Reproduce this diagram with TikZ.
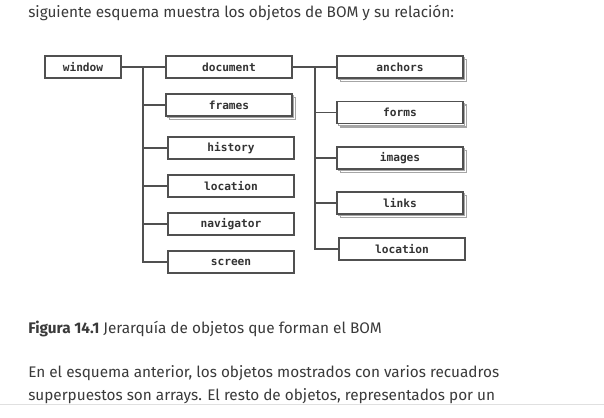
\documentclass[tikz,border=0pt]{standalone}
\usepackage{fontspec}
\setmainfont{Fira Sans}
\newfontfamily\boxfont{DejaVu Sans Mono}
\usetikzlibrary{shadows}
\definecolor{texto}{HTML}{3A3A3A}
\definecolor{linea}{HTML}{505050}
\begin{document}
\begin{tikzpicture}[
    x=0.75pt, y=-0.75pt,
    box/.style={rectangle, draw=linea, line width=1pt, fill=white,
                minimum width=94.5pt, minimum height=16.5pt, inner sep=0pt,
                font=\boxfont\bfseries\fontsize{8.4}{9}\selectfont, text=black!80},
    arr/.style={box, double copy shadow={shadow xshift=1.3pt, shadow yshift=-1.3pt,
                draw=black!35, fill=white}},
    line/.style={draw=linea, line width=1.1pt},
    txt/.style={anchor=base west, inner sep=0pt, text=texto,
                font=\fontsize{11.5}{14}\selectfont}
  ]
    \useasboundingbox[fill=white] (0,0) rectangle (604,418);

    % Textos
    \node[txt] (intro) at (28,17) {siguiente esquema muestra los objetos de BOM y su relación:};
    \node[txt] (caption) at (28,333) {\textbf{Figura 14.1} Jerarquía de objetos que forman el BOM};
    \node[txt] (para1) at (28,377) {En el esquema anterior, los objetos mostrados con varios recuadros};
    \node[txt] (para2) at (28,400) {superpuestos son arrays. El resto de objetos, representados por un};
    \fill[white] (0,404) rectangle (604,418);
    \draw[black!12] (0,404.5) -- (604,404.5);

    % Bloques
    \node[box, minimum width=57pt] (window) at (83,67) {window};
    \node[box] (document) at (229,67) {document};
    \node[arr] (frames) at (229,105) {frames};
    \node[box] (history) at (231,148) {history};
    \node[box] (location) at (231,186) {location};
    \node[box] (navigator) at (231,224) {navigator};
    \node[box] (screen) at (231,262) {screen};

    \node[arr] (anchors) at (400,67) {anchors};
    \node[arr] (forms) at (400,112.5) {forms};
    \node[arr] (images) at (400,158) {images};
    \node[arr] (links) at (400,203) {links};
    \node[box] (docLocation) at (402,249) {location};

    % Conexiones
    \coordinate (winTrunk) at (143,67);
    \coordinate (docTrunk) at (315,67);
    \draw[line] (window.east) -- (document.west);
    \draw[line] (winTrunk) |- (screen.west);
    \draw[line] (winTrunk |- frames.west) -- (frames.west);
    \draw[line] (winTrunk |- history.west) -- (history.west);
    \draw[line] (winTrunk |- location.west) -- (location.west);
    \draw[line] (winTrunk |- navigator.west) -- (navigator.west);

    \draw[line] (document.east) -- (anchors.west);
    \draw[line] (docTrunk) |- (docLocation.west);
    \draw[line] (docTrunk |- forms.west) -- (forms.west);
    \draw[line] (docTrunk |- images.west) -- (images.west);
    \draw[line] (docTrunk |- links.west) -- (links.west);
  \end{tikzpicture}
\end{document}
